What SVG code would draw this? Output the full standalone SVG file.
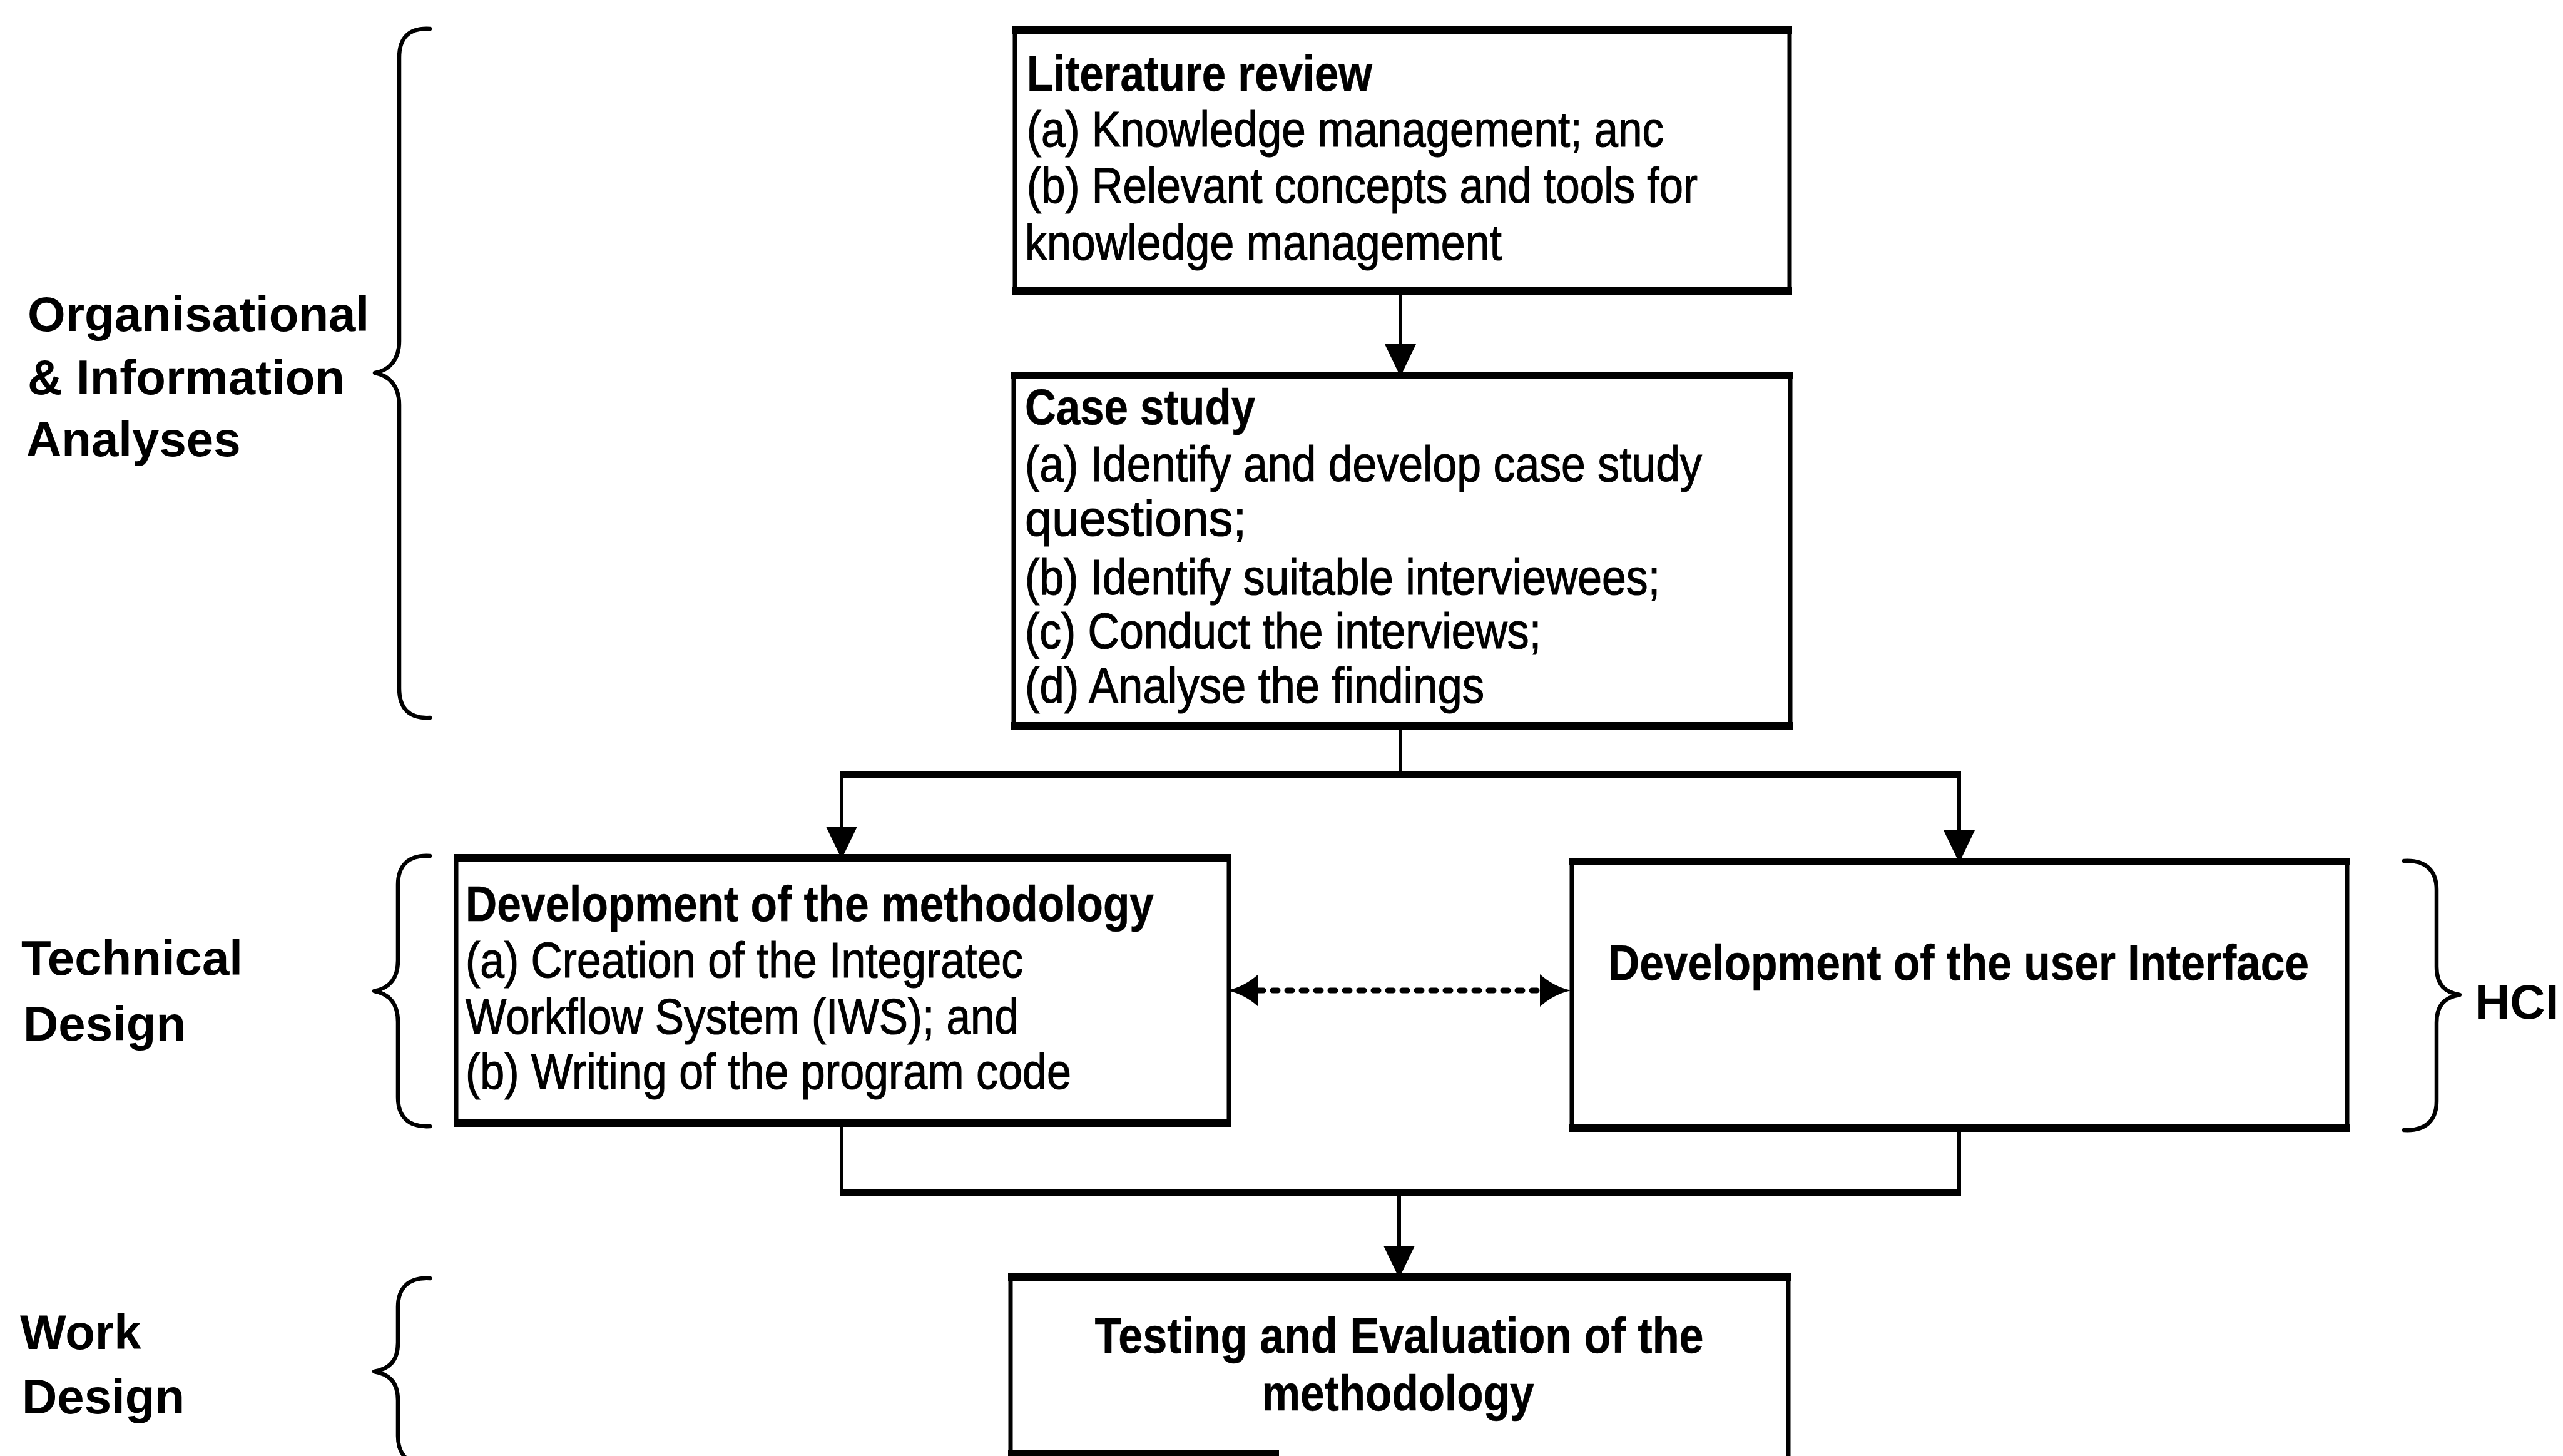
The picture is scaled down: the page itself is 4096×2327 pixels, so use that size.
<svg xmlns="http://www.w3.org/2000/svg" width="4096" height="2327" viewBox="0 0 4096 2327">
  <style>
    .bg { fill: #ffffff; }
    .box { fill: #ffffff; stroke: #000; stroke-width: 7; }
    .edge { fill: none; stroke: #000; stroke-width: 12; }
    .t { font-family: "Liberation Sans", Arial, Helvetica, sans-serif; font-size: 80px; fill: #000; stroke: #000; stroke-width: 1.2; }
    .b { font-weight: bold; stroke-width: 0.6; }
    .lbl { font-family: "Liberation Sans", Arial, Helvetica, sans-serif; font-size: 78px; font-weight: bold; fill: #000; }
    .brace { fill: none; stroke: #000; stroke-width: 6.5; stroke-linecap: round; stroke-linejoin: round; }
    .v { fill: none; stroke: #000; stroke-width: 6; }
    .h { fill: none; stroke: #000; stroke-width: 10; }
    .dash { fill: none; stroke: #000; stroke-width: 9; stroke-dasharray: 8 15; stroke-linecap: round; }
  </style>
  <defs>
    <marker id="arrow" viewBox="0 0 52 50" refX="0" refY="25" markerWidth="52" markerHeight="50" markerUnits="userSpaceOnUse" orient="auto">
      <path d="M0,0 L52,25 L0,50 Z" fill="#000"/>
    </marker>
    <marker id="dart" viewBox="0 0 50 52" refX="0" refY="26" markerWidth="50" markerHeight="52" markerUnits="userSpaceOnUse" orient="auto-start-reverse">
      <path d="M0,0 Q22,20 50,26 Q22,32 0,52 Z" fill="#000"/>
    </marker>
  </defs>

  <rect class="bg" x="0" y="0" width="4096" height="2327"/>

  <!-- phase labels with their braces -->
  <g id="phase-analyses">
    <path class="brace" d="M687,46 C652,44 638,62 638,92 L638,545 C638,575 622,592 599,596 C622,600 638,617 638,647 L638,1100 C638,1130 652,1149 687,1147"/>
    <text class="lbl" x="44" y="529">Organisational</text>
    <text class="lbl" x="44" y="630">&amp; Information</text>
    <text class="lbl" x="42" y="729">Analyses</text>
  </g>
  <g id="phase-technical">
    <path class="brace" d="M687,1368 C652,1366 636,1384 636,1414 L636,1535 C636,1565 621,1580 598,1584 C621,1588 636,1603 636,1633 L636,1754 C636,1784 652,1802 687,1800"/>
    <text class="lbl" x="34" y="1558">Technical</text>
    <text class="lbl" x="37" y="1663">Design</text>
  </g>
  <g id="phase-work">
    <path class="brace" d="M687,2043 C652,2041 636,2059 636,2089 L636,2146 C636,2176 621,2188 598,2192 C621,2196 636,2208 636,2238 L636,2295 C636,2325 652,2343 687,2341"/>
    <text class="lbl" x="32" y="2156">Work</text>
    <text class="lbl" x="35" y="2259">Design</text>
  </g>
  <g id="phase-hci">
    <path class="brace" d="M3842,1376 C3877,1374 3894,1392 3894,1422 L3894,1545 C3894,1575 3908,1586 3931,1590 C3908,1594 3894,1605 3894,1635 L3894,1760 C3894,1790 3877,1808 3842,1806"/>
    <text class="lbl" x="3955" y="1628" font-size="80">HCI</text>
  </g>

  <!-- connectors -->
  <g id="connectors">
    <path class="v" d="M2238,465 L2238,550" marker-end="url(#arrow)"/>
    <path class="v" d="M2238,1160 L2238,1238"/>
    <path class="h" d="M1342,1238 L3134,1238"/>
    <path class="v" d="M1345,1238 L1345,1321" marker-end="url(#arrow)"/>
    <path class="v" d="M3131,1238 L3131,1327" marker-end="url(#arrow)"/>
    <path class="v" d="M1345,1795 L1345,1906"/>
    <path class="v" d="M3131,1803 L3131,1906"/>
    <path class="h" d="M1342,1906 L3134,1906"/>
    <path class="v" d="M2236,1906 L2236,1991" marker-end="url(#arrow)"/>
    <path class="dash" d="M2011,1583 L2461,1583" marker-start="url(#dart)" marker-end="url(#dart)"/>
  </g>

  <!-- process boxes -->
  <g id="literature-review">
    <rect class="box" x="1622" y="48" width="1238" height="417"/>
    <path class="edge" d="M1618,48 H2864 M1618,465 H2864"/>
    <text class="t b" x="1641" y="145" textLength="552" lengthAdjust="spacingAndGlyphs">Literature review</text>
    <text class="t" x="1641" y="234" textLength="1018" lengthAdjust="spacingAndGlyphs">(a) Knowledge management; anc</text>
    <text class="t" x="1641" y="324" textLength="1072" lengthAdjust="spacingAndGlyphs">(b) Relevant concepts and tools for</text>
    <text class="t" x="1638" y="415" textLength="762" lengthAdjust="spacingAndGlyphs">knowledge management</text>
  </g>

  <g id="case-study">
    <rect class="box" x="1620" y="600" width="1241" height="560"/>
    <path class="edge" d="M1616,600 H2865 M1616,1160 H2865"/>
    <text class="t b" x="1638" y="678" textLength="368" lengthAdjust="spacingAndGlyphs">Case study</text>
    <text class="t" x="1638" y="769" textLength="1082" lengthAdjust="spacingAndGlyphs">(a) Identify and develop case study</text>
    <text class="t" x="1638" y="856" textLength="354" lengthAdjust="spacingAndGlyphs">questions;</text>
    <text class="t" x="1638" y="950" textLength="1015" lengthAdjust="spacingAndGlyphs">(b) Identify suitable interviewees;</text>
    <text class="t" x="1638" y="1036" textLength="825" lengthAdjust="spacingAndGlyphs">(c) Conduct the interviews;</text>
    <text class="t" x="1638" y="1123" textLength="734" lengthAdjust="spacingAndGlyphs">(d) Analyse the findings</text>
  </g>

  <g id="methodology">
    <rect class="box" x="729" y="1371" width="1235" height="424"/>
    <path class="edge" d="M725,1371 H1968 M725,1795 H1968"/>
    <text class="t b" x="744" y="1472" textLength="1100" lengthAdjust="spacingAndGlyphs">Development of the methodology</text>
    <text class="t" x="744" y="1562" textLength="891" lengthAdjust="spacingAndGlyphs">(a) Creation of the Integratec</text>
    <text class="t" x="744" y="1652" textLength="884" lengthAdjust="spacingAndGlyphs">Workflow System (IWS); and</text>
    <text class="t" x="744" y="1740" textLength="968" lengthAdjust="spacingAndGlyphs">(b) Writing of the program code</text>
  </g>

  <g id="user-interface">
    <rect class="box" x="2512" y="1377" width="1239" height="426"/>
    <path class="edge" d="M2508,1377 H3755 M2508,1803 H3755"/>
    <text class="t b" x="3130" y="1566" text-anchor="middle" textLength="1120" lengthAdjust="spacingAndGlyphs">Development of the user Interface</text>
  </g>

  <g id="testing-evaluation">
    <rect class="box" x="1615" y="2041" width="1243" height="320"/>
    <path class="edge" d="M1611,2041 H2862 M1611,2324 H2044"/>
    <text class="t b" x="2236" y="2162" text-anchor="middle" textLength="973" lengthAdjust="spacingAndGlyphs">Testing and Evaluation of the</text>
    <text class="t b" x="2234" y="2254" text-anchor="middle" textLength="435" lengthAdjust="spacingAndGlyphs">methodology</text>
  </g>
</svg>
